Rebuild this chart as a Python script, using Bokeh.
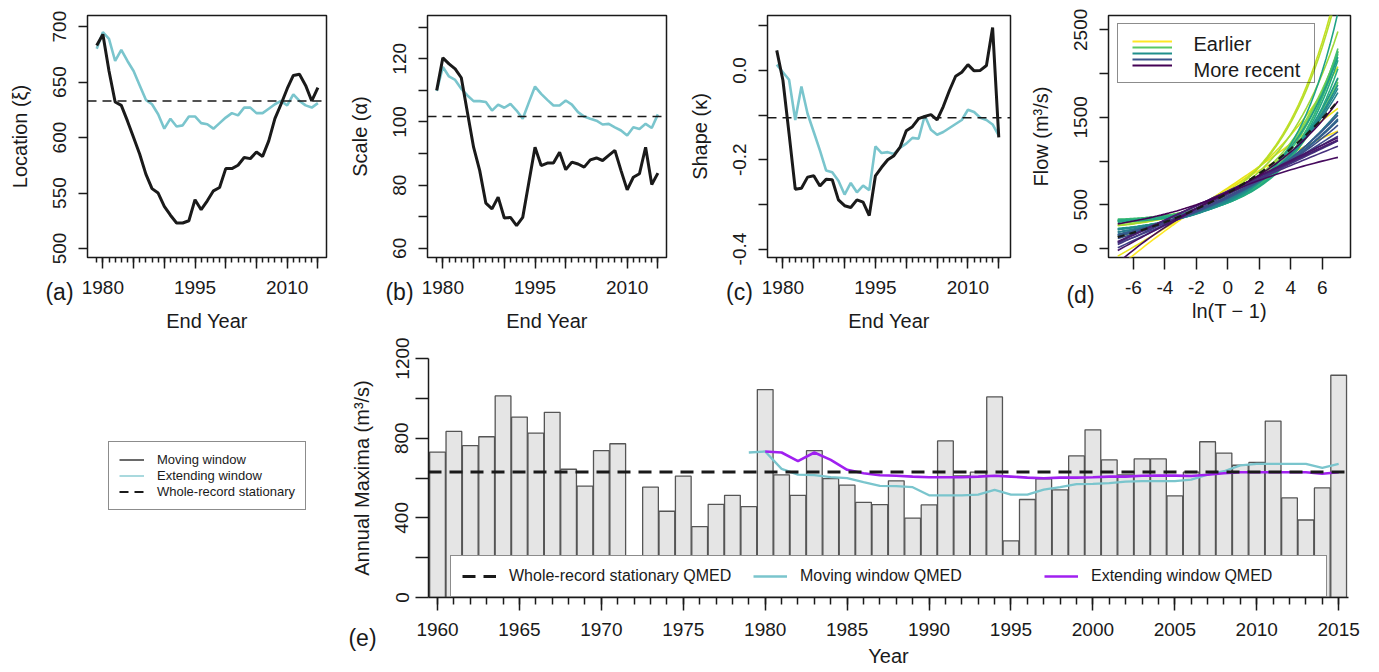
import numpy as np

from bokeh.core.properties import value
from bokeh.embed import file_html
from bokeh.layouts import column, row
from bokeh.models import FixedTicker, GridBox, Legend, LegendItem, Span
from bokeh.palettes import viridis
from bokeh.plotting import figure
from bokeh.resources import INLINE

FONT = "Liberation Sans"
INK = "#1a1a1a"
CYAN = "#7AC5CD"
PURPLE = "#A020F0"

# end year of each 20-year window
end_years = list(range(1979, 2016))

# GLO parameters: moving window (black) and extending window (cyan)
loc_moving = [683, 693, 660, 632, 629, 615, 600, 585, 567, 554, 550, 538, 530, 523, 523, 525,
              544, 535, 543, 552, 555, 572, 572, 575, 582, 581, 587, 583, 597, 617, 630, 644,
              656, 657, 647, 633, 645]
loc_extending = [680, 695, 689, 669, 679, 669, 660, 647, 634, 630, 621, 608, 617, 610, 611, 619,
                 619, 613, 612, 608, 613, 618, 622, 620, 627, 627, 622, 622, 626, 630, 633, 629,
                 639, 633, 629, 627, 631]
scale_moving = [110, 120.3, 118.4, 116.8, 114, 103, 92, 84.6, 74.3, 72.5, 76.2, 69.6, 69.8, 67.2,
                69.8, 80.9, 92, 86.2, 87, 87, 90.4, 84.9, 87.3, 86.7, 85.7, 88, 88.6, 87.8, 89.4,
                91, 84.6, 78.5, 82.5, 83.6, 92, 80.2, 83.8]
scale_extending = [109.8, 117.4, 114.4, 113.3, 110.5, 108.4, 106.6, 106.6, 106.3, 103.6, 105.5,
                   104.5, 105.7, 103.6, 101, 106.2, 111.2, 108.9, 107, 105.2, 105.2, 106.8, 105.5,
                   103.1, 101.7, 101, 100.4, 99.2, 99.4, 98.3, 97.3, 95.7, 98.3, 97.8, 99.4, 98.1,
                   102.4]
shape_moving = [0.045, -0.022, -0.142, -0.266, -0.264, -0.239, -0.236, -0.259, -0.244, -0.245,
                -0.29, -0.303, -0.307, -0.29, -0.295, -0.325, -0.236, -0.217, -0.2, -0.191,
                -0.172, -0.135, -0.126, -0.108, -0.103, -0.099, -0.111, -0.081, -0.045, -0.013,
                -0.004, 0.013, -0.001, 0.0, 0.011, 0.096, -0.15]
shape_extending = [0.013, -0.004, -0.021, -0.111, -0.036, -0.097, -0.138, -0.179, -0.224, -0.228,
                   -0.247, -0.278, -0.252, -0.273, -0.258, -0.268, -0.17, -0.185, -0.183, -0.187,
                   -0.173, -0.164, -0.151, -0.153, -0.101, -0.133, -0.144, -0.138, -0.129, -0.12,
                   -0.111, -0.088, -0.093, -0.106, -0.111, -0.121, -0.146]

# whole-record stationary fit
loc_whole = 633
scale_whole = 101.7
shape_whole = -0.106
qmed_whole = 630

# annual maxima, 1972 missing
am_years = list(range(1960, 2016))
am_flow = [730, 834, 763, 807, 1012, 906, 825, 930, 644, 559,
           737, 772, np.nan, 554, 433, 609, 356, 468, 513, 456,
           1044, 616, 513, 737, 597, 564, 478, 466, 586, 399,
           465, 786, 610, 630, 1007, 284, 492, 596, 540, 711,
           842, 691, 615, 696, 696, 510, 629, 782, 725, 664,
           678, 886, 500, 389, 550, 1116]

# QMED by window end year
qmed_moving = [728, 733, 646, 617, 614, 604, 599, 579, 560, 559,
               554, 513, 513, 513, 517, 540, 517, 517, 542, 554,
               569, 570, 574, 582, 584, 584, 584, 592, 617, 634,
               663, 671, 671, 671, 671, 651, 671]
qmed_extending_years = list(range(1980, 2016))
qmed_extending = [733, 728, 685, 728, 691, 641, 624, 614, 611, 607,
                  604, 604, 604, 607, 611, 607, 602, 599, 602, 602,
                  604, 607, 607, 611, 612, 612, 610, 616, 624, 629,
                  629, 629, 629, 629, 621, 629]

# reduced variate ln(T - 1) where the growth curves are evaluated
ln_t = np.linspace(-7, 7, 57)


def glo_quantile(xi, alpha, kappa):
    if abs(kappa) < 1e-9:
        return xi + alpha * ln_t
    return xi + alpha / kappa * (1 - np.exp(-kappa * ln_t))


def style(p, x_ticks, x_minor, x_labels, y_ticks, y_labels, x_title, y_title,
          x_tick=11, x_minor_tick=5, y_tick=9, x_standoff=12, y_standoff=12,
          x_title_standoff=13, y_title_standoff=20):
    p.xgrid.visible = False
    p.ygrid.visible = False
    p.background_fill_color = "white"
    p.border_fill_color = "white"
    p.outline_line_color = INK
    p.outline_line_width = 1.5
    p.xaxis.ticker = FixedTicker(ticks=x_ticks, minor_ticks=x_minor)
    p.yaxis.ticker = FixedTicker(ticks=y_ticks)
    p.xaxis.major_label_overrides = {t: x_labels.get(t, "") for t in x_ticks}
    p.yaxis.major_label_overrides = {t: y_labels.get(t, "") for t in y_ticks}
    p.xaxis.axis_label = x_title
    p.yaxis.axis_label = y_title
    p.yaxis.major_label_orientation = "vertical"
    p.xaxis.major_tick_out = x_tick
    p.xaxis.minor_tick_out = x_minor_tick
    p.yaxis.major_tick_out = y_tick
    p.yaxis.minor_tick_out = 0
    p.xaxis.major_label_standoff = x_standoff
    p.yaxis.major_label_standoff = y_standoff
    p.xaxis.axis_label_standoff = x_title_standoff
    p.yaxis.axis_label_standoff = y_title_standoff
    for ax in (p.xaxis[0], p.yaxis[0]):
        ax.axis_line_color = None
        ax.major_tick_in = 0
        ax.minor_tick_in = 0
        ax.major_tick_line_width = 1.5
        ax.minor_tick_line_width = 1.5
        ax.major_tick_line_color = INK
        ax.minor_tick_line_color = INK
        ax.major_label_text_font = FONT
        ax.major_label_text_font_size = "19px"
        ax.major_label_text_color = INK
        ax.axis_label_text_font = FONT
        ax.axis_label_text_font_size = "20px"
        ax.axis_label_text_font_style = "normal"
        ax.axis_label_text_color = INK


year_major = list(range(1980, 2016, 5))
year_labels = {1980: "1980", 1995: "1995", 2010: "2010"}


def param_panel(border_left, frame_w, border_right, x_end, y_range, y_ticks, y_labels,
                y_title, moving, extending, whole):
    p = figure(frame_width=frame_w, frame_height=242, x_range=(1977.5, x_end),
               y_range=y_range, min_border_left=border_left, min_border_right=border_right,
               min_border_top=15, min_border_bottom=78,
               toolbar_location=None, output_backend="svg")
    style(p, year_major, end_years, year_labels, y_ticks, y_labels, "End Year", y_title)
    p.line(end_years, extending, line_color=CYAN, line_width=2.6)
    p.line(end_years, moving, line_color=INK, line_width=3)
    p.add_layout(Span(location=whole, dimension="width", line_color=INK,
                      line_width=1.5, line_dash="9 6"))
    return p


p_a = param_panel(87, 239, 6, 2016.4, (491.9, 710), [500, 550, 600, 650, 700],
                  {500: "500", 550: "550", 600: "600", 650: "650", 700: "700"},
                  "Location (ξ)", loc_moving, loc_extending, loc_whole)
p_b = param_panel(95, 239, 6, 2016.4, (57.1, 133.7), [60, 70, 80, 90, 100, 110, 120, 130],
                  {60: "60", 80: "80", 100: "100", 120: "120"},
                  "Scale (α)", scale_moving, scale_extending, scale_whole)
p_c = param_panel(95, 243, 2, 2016.9, (-0.419, 0.123), [0.1, 0.0, -0.1, -0.2, -0.3, -0.4],
                  {0.0: "0.0", -0.2: "-0.2", -0.4: "-0.4"},
                  "Shape (κ)", shape_moving, shape_extending, shape_whole)

# (d) growth curves of the moving-window fits, earliest in yellow
p_d = figure(frame_width=242, frame_height=242, x_range=(-7.59, 7.8), y_range=(-103, 2664),
             min_border_left=96, min_border_right=13, min_border_top=15, min_border_bottom=78,
             toolbar_location=None, output_backend="svg")
style(p_d, [-6, -4, -2, 0, 2, 4, 6], [],
      {-6: "-6", -4: "-4", -2: "-2", 0: "0", 2: "2", 4: "4", 6: "6"},
      [0, 500, 1000, 1500, 2000, 2500], {0: "0", 500: "500", 1500: "1500", 2500: "2500"},
      "ln(T − 1)", "Flow (m³/s)", x_tick=12, x_standoff=11, x_title_standoff=3)
curve_colors = list(viridis(len(end_years)))[::-1]
curves = [glo_quantile(a, b, c) for a, b, c in zip(loc_moving, scale_moving, shape_moving)]
p_d.multi_line(xs=[ln_t] * len(curves), ys=curves, line_color=curve_colors, line_width=1.6)
p_d.line(ln_t, glo_quantile(loc_whole, scale_whole, shape_whole), line_color=INK,
         line_width=2.2, line_dash="7 5")

# (e) annual maxima with QMED estimates
p_e = figure(frame_width=920, frame_height=239, x_range=(1959.45, 2015.6), y_range=(0, 1200),
             min_border_left=428, min_border_right=15, min_border_top=23, min_border_bottom=74,
             toolbar_location=None, output_backend="svg")
style(p_e, list(range(1960, 2016, 5)), am_years,
      {y: str(y) for y in range(1960, 2016, 5)},
      [0, 200, 400, 600, 800, 1000, 1200], {0: "0", 400: "400", 800: "800", 1200: "1200"},
      "Year", "Annual Maxima (m³/s)", x_tick=13, x_minor_tick=7, y_tick=13,
      x_standoff=12, y_standoff=7, x_title_standoff=6)
p_e.outline_line_color = None
p_e.xaxis.axis_line_color = INK
p_e.yaxis.axis_line_color = INK
p_e.xaxis.axis_line_width = 1.5
p_e.yaxis.axis_line_width = 1.5
p_e.vbar(x=am_years, top=np.array(am_flow, dtype=float), bottom=0, width=0.96,
         fill_color="#E5E5E5", line_color="#555555", line_width=1.3)
r_mov = p_e.line(end_years, qmed_moving, line_color=CYAN, line_width=2.3)
r_ext = p_e.line(qmed_extending_years, qmed_extending, line_color=PURPLE, line_width=2.6)
p_e.add_layout(Span(location=qmed_whole, dimension="width", line_color=INK,
                    line_width=3, line_dash="13 8"))
# hidden copy of the whole-record level, only to give the legend its dashed glyph
r_whole = p_e.line(am_years, [qmed_whole] * len(am_years), line_color=INK, line_width=3,
                   line_dash="13 8", visible=False)
p_e.add_layout(Legend(items=[LegendItem(label="Whole-record stationary QMED", renderers=[r_whole]),
                             LegendItem(label="Moving window QMED", renderers=[r_mov]),
                             LegendItem(label="Extending window QMED", renderers=[r_ext])],
                      orientation="horizontal", location=(22, 0), padding=11, spacing=20,
                      glyph_width=34, glyph_height=18, label_height=18, label_width=224,
                      label_standoff=13, label_text_font=FONT, label_text_font_size="16px",
                      label_text_color=INK, border_line_color=INK, border_line_width=1.5,
                      background_fill_color="white", background_fill_alpha=1))

panels = column(row(p_a, p_b, p_c, p_d), p_e)

# transparent sheet on top of the panels, in page pixels, for the panel tags and keys
W, H = 1363, 671
sheet = figure(width=W, height=H, x_range=(0, W), y_range=(H, 0), min_border=0,
               x_axis_location=None, y_axis_location=None, toolbar_location=None,
               output_backend="svg", background_fill_color=None, border_fill_color=None,
               outline_line_color=None)
sheet.xgrid.visible = False
sheet.ygrid.visible = False
sheet.text(x=[59, 399, 739, 1080, 362], y=[291, 291, 291, 294, 637],
           text=["(a)", "(b)", "(c)", "(d)", "(e)"], text_font=value(FONT),
           text_font_size="23px", text_color=INK, text_align="center", text_baseline="middle")


def key_line(**style_kw):
    # hidden one-point line: the legend needs a renderer with data to draw its glyph
    return sheet.line([0], [0], visible=False, **style_kw)


# key of panel (d)
key_colors = list(viridis(5))[::-1]
key_items = [LegendItem(label=" ", renderers=[key_line(line_color=c, line_width=2)])
             for c in key_colors]
sheet.add_layout(Legend(items=key_items, location=(1117, H - 83), padding=14, spacing=0,
                        glyph_width=40, glyph_height=6, label_height=6, label_width=120,
                        label_standoff=8, label_text_font_size="1px",
                        border_line_color=INK, border_line_width=1.5,
                        background_fill_alpha=0))
sheet.text(x=[1193, 1193], y=[43, 69], text=["Earlier", "More recent"], text_font=value(FONT),
           text_font_size="20px", text_color=INK, text_baseline="middle")

# key of panels (a)-(c)
k_mov = key_line(line_color=INK, line_width=1.3)
k_ext = key_line(line_color=CYAN, line_width=1.3)
k_whole = key_line(line_color=INK, line_width=2, line_dash="9 6")
sheet.add_layout(Legend(items=[LegendItem(label="Moving window", renderers=[k_mov]),
                               LegendItem(label="Extending window", renderers=[k_ext]),
                               LegendItem(label="Whole-record stationary", renderers=[k_whole])],
                        location=(108, H - 510), padding=10, spacing=1,
                        glyph_width=25, glyph_height=15, label_height=15,
                        label_standoff=13, label_text_font=FONT, label_text_font_size="13px",
                        label_text_color=INK, border_line_color=INK, border_line_width=1,
                        background_fill_color="white", background_fill_alpha=1))

page = GridBox(children=[(panels, 0, 0), (sheet, 0, 0)])
open("out.html", "w").write(file_html(page, INLINE))
